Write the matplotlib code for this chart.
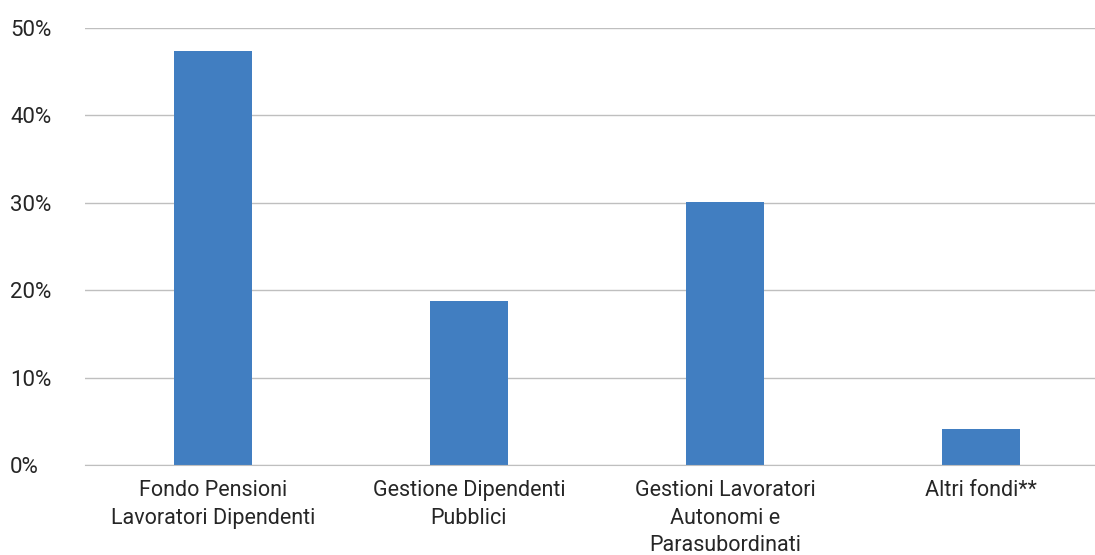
import matplotlib
matplotlib.use("Agg")
import matplotlib.pyplot as plt
from matplotlib.ticker import FuncFormatter, MultipleLocator

categories = ["Fondo Pensioni\nLavoratori Dipendenti", "Gestione Dipendenti\nPubblici",
              "Gestioni Lavoratori\nAutonomi e\nParasubordinati", "Altri fondi**"]
values = [47.4, 18.8, 30.1, 4.1]

plt.rcParams['font.family'] = ['Roboto', 'DejaVu Sans']

fig = plt.figure(figsize=(10.95, 5.55), dpi=100)
ax = fig.add_axes([85/1095, 1 - 465/555, 1024/1095, (465-28)/555])

x = range(len(categories))
ax.bar(x, values, width=0.305, color="#417EC1", zorder=3)
ax.set_xlim(-0.5, len(categories) - 0.5)
ax.set_ylim(0, 50)
ax.yaxis.set_major_locator(MultipleLocator(10))
ax.yaxis.set_major_formatter(FuncFormatter(lambda v, p: f"{int(v)}%"))
ax.grid(axis='y', color="#BFBFBF", linewidth=1, zorder=0)
ax.set_xticks(list(x))
ax.set_xticklabels(categories, fontsize=15.5, color="#262626", linespacing=1.39)
ax.tick_params(axis='y', labelsize=16, colors="#262626", length=0, pad=54)
ax.tick_params(axis='x', length=0, pad=11)
for s in ['left', 'right', 'top']:
    ax.spines[s].set_visible(False)
ax.spines['bottom'].set_color("#BFBFBF")
ax.spines['bottom'].set_zorder(4)
for lbl in ax.get_yticklabels():
    lbl.set_horizontalalignment('left')

fig.savefig("out.png", dpi=100)
